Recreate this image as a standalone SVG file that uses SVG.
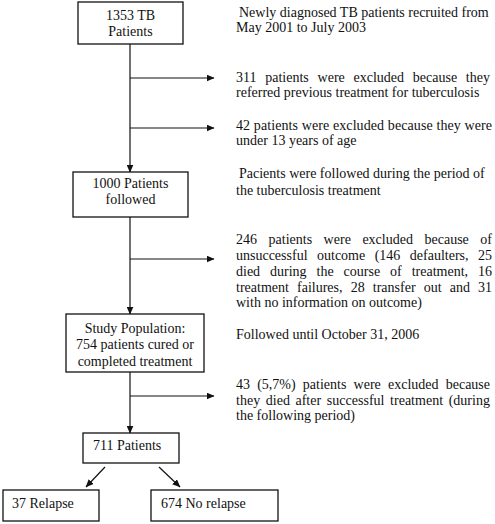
<svg xmlns="http://www.w3.org/2000/svg" width="495" height="524" viewBox="0 0 495 524">
<style>
  .box { fill: #fff; stroke: #111; stroke-width: 1.3; }
  .t { font-family: "Liberation Serif", "Times New Roman", serif; font-size: 14px; fill: #111; }
  .c { text-anchor: middle; }
  .ln { stroke: #111; stroke-width: 1.2; fill: none; }
</style>
<defs>
  <marker id="ah" markerWidth="8" markerHeight="7" refX="7.5" refY="3.5" orient="auto" markerUnits="userSpaceOnUse">
    <path d="M0,0 L8,3.5 L0,7 Z" fill="#111"/>
  </marker>
</defs>
<rect width="495" height="524" fill="#fff"/>

<g id="connectors">
  <line class="ln" x1="130" y1="44" x2="130" y2="172" marker-end="url(#ah)"/>
  <line class="ln" x1="130" y1="78" x2="214" y2="78" marker-end="url(#ah)"/>
  <line class="ln" x1="130" y1="128" x2="214" y2="128" marker-end="url(#ah)"/>
  <line class="ln" x1="130" y1="217" x2="130" y2="314" marker-end="url(#ah)"/>
  <line class="ln" x1="130" y1="259" x2="214" y2="259" marker-end="url(#ah)"/>
  <line class="ln" x1="130" y1="372" x2="130" y2="433" marker-end="url(#ah)"/>
  <line class="ln" x1="130" y1="396" x2="214" y2="396" marker-end="url(#ah)"/>
  <line class="ln" x1="105" y1="467" x2="86" y2="487" marker-end="url(#ah)"/>
  <line class="ln" x1="159" y1="467" x2="180" y2="487" marker-end="url(#ah)"/>
</g>

<g id="n1353">
  <rect class="box" x="78" y="2" width="105" height="42"/>
  <text class="t c" x="130.5" y="20">1353 TB</text>
  <text class="t c" x="130.5" y="36">Patients</text>
</g>
<g id="n1000">
  <rect class="box" x="73" y="172" width="115" height="45"/>
  <text class="t c" x="130.5" y="188">1000 Patients</text>
  <text class="t c" x="130.5" y="204">followed</text>
</g>
<g id="nstudy">
  <rect class="box" x="66" y="314" width="138" height="58"/>
  <text class="t c" x="135" y="333">Study Population:</text>
  <text class="t c" x="135" y="349">754 patients cured or</text>
  <text class="t c" x="135" y="366">completed treatment</text>
</g>
<g id="n711">
  <rect class="box" x="83" y="433" width="96" height="30"/>
  <text class="t" x="93" y="450">711 Patients</text>
</g>
<g id="nrelapse">
  <rect class="box" x="3" y="490" width="96" height="31"/>
  <text class="t" x="12" y="508">37 Relapse</text>
</g>
<g id="nnorelapse">
  <rect class="box" x="151" y="490" width="127" height="31"/>
  <text class="t" x="161" y="508">674 No relapse</text>
</g>

<g id="notes">
  <text class="t" x="239" y="17">Newly diagnosed TB patients recruited from</text>
  <text class="t" x="236" y="32">May 2001 to July 2003</text>

  <text class="t" x="236" y="82" word-spacing="5.2" textLength="254" lengthAdjust="spacing">311 patients were excluded because they</text>
  <text class="t" x="236" y="97">referred previous treatment for tuberculosis</text>

  <text class="t" x="236" y="130" textLength="256" lengthAdjust="spacing">42 patients were excluded because they were</text>
  <text class="t" x="236" y="145">under 13 years of age</text>

  <text class="t" x="239" y="178">Pacients were followed during the period of</text>
  <text class="t" x="236" y="195">the tuberculosis treatment</text>

  <text class="t" x="236" y="244" word-spacing="8" textLength="256" lengthAdjust="spacing">246 patients were excluded because of</text>
  <text class="t" x="236" y="260" word-spacing="6" textLength="256" lengthAdjust="spacing">unsuccessful outcome (146 defaulters, 25</text>
  <text class="t" x="236" y="276" word-spacing="6.4" textLength="256" lengthAdjust="spacing">died during the course of treatment, 16</text>
  <text class="t" x="236" y="292" word-spacing="4.6" textLength="256" lengthAdjust="spacing">treatment failures, 28 transfer out and 31</text>
  <text class="t" x="236" y="307">with no information on outcome)</text>

  <text class="t" x="236" y="339">Followed until October 31, 2006</text>

  <text class="t" x="236" y="389" word-spacing="3.7" textLength="254" lengthAdjust="spacing">43 (5,7%) patients were excluded because</text>
  <text class="t" x="236" y="405" word-spacing="2" textLength="254" lengthAdjust="spacing">they died after successful treatment (during</text>
  <text class="t" x="236" y="420">the following period)</text>
</g>
</svg>
